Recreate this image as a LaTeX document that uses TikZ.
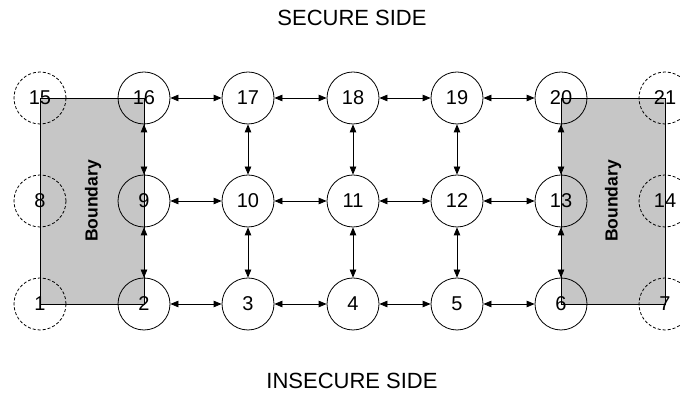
\documentclass[tikz,border=0pt]{standalone}
\usepackage{fontspec}
\setmainfont{Liberation Sans}
\usepackage{tikz}
\usetikzlibrary{arrows.meta}
\definecolor{zonegray}{HTML}{C6C6C6}

\begin{document}
\begin{tikzpicture}[
  x=1pt,y=1pt,
  pe/.style={circle,draw=black,line width=0.8pt,minimum size=52pt,inner sep=0pt,
             font=\fontsize{20}{24}\selectfont},
  ghost/.style={pe,dash pattern=on 3pt off 2pt},
  zone/.style={draw=black,line width=0.8pt,fill=zonegray},
  zlbl/.style={rotate=90,font=\fontsize{17.5}{20}\selectfont\bfseries},
  side/.style={font=\fontsize{22}{26}\selectfont},
  link/.style={{Triangle[length=8pt,width=6.5pt]}-{Triangle[length=8pt,width=6.5pt]},
               line width=0.8pt}
]
\useasboundingbox (0,0) rectangle (680,395);

% ---- boundary zones
\draw[zone] (40,91) rectangle (144,297);
\draw[zone] (561,91) rectangle (665,297);
\node[zlbl] (bl) at (93,194) {Boundary};
\node[zlbl] (br) at (613,194) {Boundary};

% ---- top row
\node[ghost] (n15) at (40,297) {15};
\node[pe] (n16) at (144,297) {16};
\node[pe] (n17) at (248,297) {17};
\node[pe] (n18) at (353,297) {18};
\node[pe] (n19) at (457,297) {19};
\node[pe] (n20) at (561,297) {20};
\node[ghost] (n21) at (665,297) {21};

% ---- middle row
\node[ghost] (n8) at (40,194) {8};
\node[pe] (n9) at (144,194) {9};
\node[pe] (n10) at (248,194) {10};
\node[pe] (n11) at (353,194) {11};
\node[pe] (n12) at (457,194) {12};
\node[pe] (n13) at (561,194) {13};
\node[ghost] (n14) at (665,194) {14};

% ---- bottom row
\node[ghost] (n1) at (40,91) {1};
\node[pe] (n2) at (144,91) {2};
\node[pe] (n3) at (248,91) {3};
\node[pe] (n4) at (353,91) {4};
\node[pe] (n5) at (457,91) {5};
\node[pe] (n6) at (561,91) {6};
\node[ghost] (n7) at (665,91) {7};

% ---- horizontal links
\draw[link] (n16) -- (n17);
\draw[link] (n17) -- (n18);
\draw[link] (n18) -- (n19);
\draw[link] (n19) -- (n20);
\draw[link] (n9) -- (n10);
\draw[link] (n10) -- (n11);
\draw[link] (n11) -- (n12);
\draw[link] (n12) -- (n13);
\draw[link] (n2) -- (n3);
\draw[link] (n3) -- (n4);
\draw[link] (n4) -- (n5);
\draw[link] (n5) -- (n6);

% ---- vertical links
\draw[link] (n16) -- (n9);
\draw[link] (n9) -- (n2);
\draw[link] (n17) -- (n10);
\draw[link] (n10) -- (n3);
\draw[link] (n18) -- (n11);
\draw[link] (n11) -- (n4);
\draw[link] (n19) -- (n12);
\draw[link] (n12) -- (n5);
\draw[link] (n20) -- (n13);
\draw[link] (n13) -- (n6);

% ---- sides
\node[side] (sec) at (352,377) {SECURE SIDE};
\node[side] (insec) at (352,14) {INSECURE SIDE};
\end{tikzpicture}
\end{document}
